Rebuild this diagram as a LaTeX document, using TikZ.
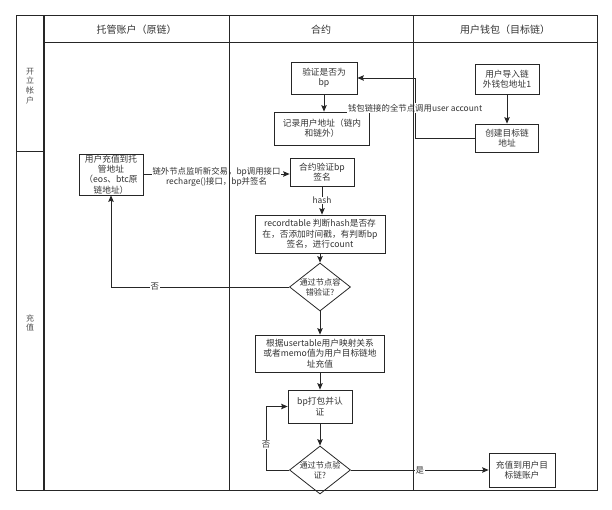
\documentclass[tikz,border=0pt]{standalone}
\usepackage{fontspec}
\setmainfont{Noto Sans CJK SC}
\usepackage{tikz}
\usetikzlibrary{arrows.meta,shapes.geometric,positioning}

\begin{document}
\begin{tikzpicture}[x=1pt,y=-1pt,line join=miter,
  box/.style={draw=black!85,line width=0.8pt,align=center,inner sep=0pt,text=black!80,font=\fontsize{8.7}{10.2}\selectfont},
  dec/.style={draw=black!85,diamond,aspect=1.25,line width=0.8pt,inner sep=0pt,minimum width=61,minimum height=48},
  dtxt/.style={align=center,inner sep=0pt,text=black!80,font=\fontsize{8.2}{9.8}\selectfont},
  flow/.style={draw=black!85,line width=0.8pt,-{Stealth[length=6.5pt,width=5.5pt,inset=1.2pt]}},
  lbl/.style={fill=white,inner sep=0.6pt,align=center,text=black!80,font=\fontsize{8.4}{9.8}\selectfont},
  head/.style={text=black!80,font=\fontsize{10}{12}\selectfont},
  side/.style={align=center,inner sep=0pt,text=black!70,font=\fontsize{8}{9.6}\selectfont},
  lane/.style={draw=black!85,line width=0.8pt}]
\useasboundingbox (0,0) rectangle (612,510);
\node[box,minimum width=64,minimum height=30] (imp) at (507,79) {用户导入链\\外钱包地址1};
\node[box,minimum width=63,minimum height=28] (crt) at (507,138) {创建目标链\\地址};
\node[box,minimum width=66,minimum height=32] (chk) at (324,78) {验证是否为\\bp};
\node[box,minimum width=95,minimum height=33] (rec) at (322,128.5) {记录用户地址（链内\\和链外）};
\node[box,minimum width=64,minimum height=41] (dep) at (111,174.5) {用户充值到托\\管地址\\（eos、btc原\\链地址）};
\node[box,minimum width=64,minimum height=28] (sig) at (322,172) {合约验证bp\\签名};
\node[box,minimum width=130,minimum height=38] (rt) at (320,234) {recordtable 判断hash是否存\\在，否添加时间戳，有判断bp\\签名，进行count};
\node[dec,label={[dtxt]center:通过节点容\\错验证?}] (d1) at (320,287) {};
\node[box,minimum width=129,minimum height=37] (usr) at (320,353.5) {根据usertable用户映射关系\\或者memo值为用户目标链地\\址充值};
\node[box,minimum width=64,minimum height=33] (bp) at (320,406.5) {bp打包并认\\证};
\node[dec,label={[dtxt]center:通过节点验\\证?}] (d2) at (320,470) {};
\node[box,minimum width=66,minimum height=34] (fin) at (522,470) {充值到用户目\\标链账户};
\draw[flow] (imp) -- (crt);
\draw[flow] (crt.west) -- ++(-60,0) |- node[lbl,pos=0.25]{钱包链接的全节点调用user account} (chk.east);
\draw[flow] (chk) -- (chk |- rec.north);
\draw[flow] (dep.east |- 0,174) -- node[lbl,yshift=-3pt]{链外节点监听新交易，bp调用接口\\recharge()接口，bp并签名} (sig.west |- 0,174);
\draw[flow] (sig) -- node[lbl]{hash} (sig |- rt.north);
\draw[flow] (rt) -- (d1);
\draw[flow] (d1.west) -| node[lbl,pos=0.377]{否} (dep.south);
\draw[flow] (d1) -- (usr);
\draw[flow] (usr) -- (bp);
\draw[flow] (bp) -- (d2);
\draw[flow] (d2.west) -- ++(-23,0) |- node[lbl,pos=0.2]{否} (bp.west);
\draw[flow] (d2) -- node[lbl]{是} (fin);
\draw[lane,line width=1pt] (16,16) rectangle (597,490);
\draw[lane,line width=1.6pt] (44,16) -- (44,490);
\draw[lane] (229,16) -- (229,490);
\draw[lane] (413,16) -- (413,490);
\draw[lane,line width=1pt] (44,43) -- (597,43);
\draw[lane,line width=1pt] (16,152) -- (44,152);
\node[head] (h1) at (136.5,29.5) {托管账户（原链）};
\node[head] (h2) at (321,29.5) {合约};
\node[head] (h3) at (505,29.5) {用户钱包（目标链）};
\node[side] (s1) at (30,86) {开\\立\\帐\\户};
\node[side] (s2) at (30,323) {充\\值};
\end{tikzpicture}
\end{document}
